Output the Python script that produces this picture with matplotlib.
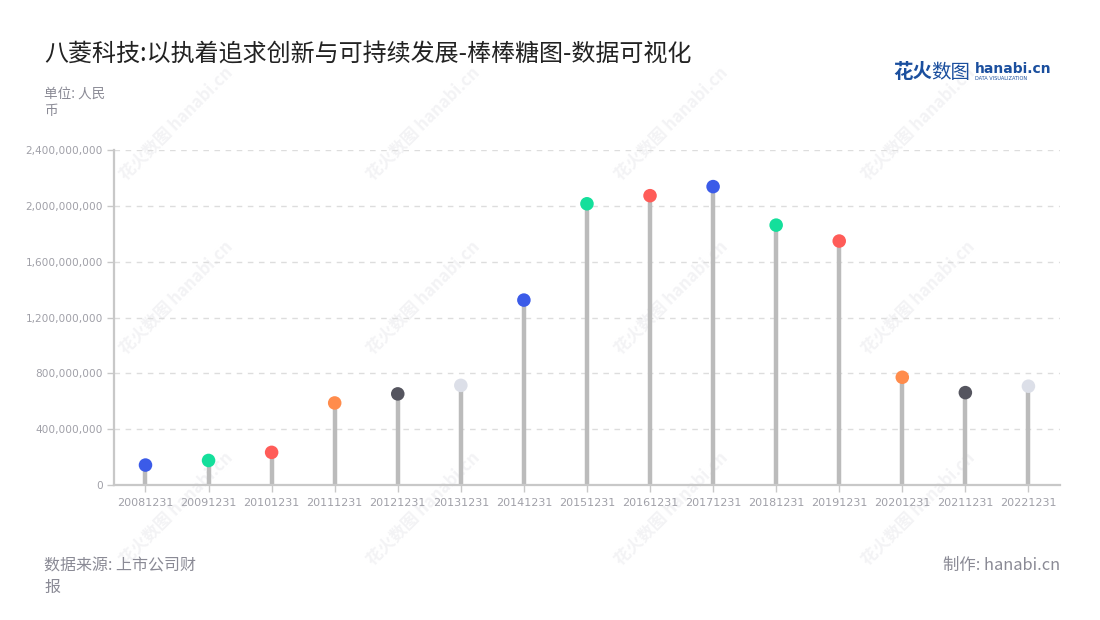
import matplotlib
matplotlib.use("Agg")
import matplotlib.pyplot as plt
from matplotlib.ticker import FuncFormatter

plt.rcParams['font.family'] = ['Noto Sans CJK SC', 'DejaVu Sans']

# ---- data ----
categories = ["20081231", "20091231", "20101231", "20111231", "20121231",
              "20131231", "20141231", "20151231", "20161231", "20171231",
              "20181231", "20191231", "20201231", "20211231", "20221231"]
values = [143e6, 176e6, 234e6, 588e6, 653e6,
          714e6, 1325e6, 2015e6, 2073e6, 2138e6,
          1862e6, 1748e6, 772e6, 662e6, 708e6]
point_colors = ["#3b5be8", "#14df9b", "#ff5c58", "#ff8c4c", "#55555f",
                "#dcdfe8", "#3b5be8", "#14df9b", "#ff5c58", "#3b5be8",
                "#14df9b", "#ff5c58", "#ff8c4c", "#55555f", "#dcdfe8"]
y_ticks = [0, 400e6, 800e6, 1200e6, 1600e6, 2000e6, 2400e6]

title = "八菱科技:以执着追求创新与可持续发展-棒棒糖图-数据可视化"
unit_text = "单位: 人民\n币"
source_text = "数据来源: 上市公司财\n报"
maker_text = "制作: hanabi.cn"

fig = plt.figure(figsize=(11, 6.2), dpi=100)
fig.patch.set_facecolor("white")

# faint watermarks (behind everything)
for wx in [0.16, 0.385, 0.61, 0.835]:
    for wy in [0.80, 0.52, 0.18]:
        t = fig.text(wx, wy, "花火数图 hanabi.cn", rotation=45, fontsize=12,
                     color="#f3f3f5", ha="center", va="center",
                     fontweight="bold")
        t.set_zorder(-5)

ax = fig.add_axes([0.1036, 0.2177, 0.86, 0.5403])
ax.set_zorder(2)
ax.set_facecolor("none")
x = list(range(len(categories)))

ax.vlines(x, 0, values, colors="#bbbbbb", linewidth=3.2, zorder=2)
ax.scatter(x, values, s=95, c=point_colors, zorder=3, edgecolors="none")

ax.set_xlim(-0.5, len(categories) - 0.5)
ax.set_ylim(0, 2400e6)
ax.set_yticks(y_ticks)
ax.yaxis.set_major_formatter(FuncFormatter(lambda v, p: f"{int(round(v)):,}"))
ax.set_xticks(x)
ax.set_xticklabels(categories, family="DejaVu Sans")
for lab in ax.get_yticklabels():
    lab.set_family("DejaVu Sans")

ax.grid(axis="y", linestyle=(0, (4, 4)), color="#dddddd", linewidth=1, zorder=1)
ax.set_axisbelow(True)
for s in ["top", "right"]:
    ax.spines[s].set_visible(False)
for s in ["left", "bottom"]:
    ax.spines[s].set_color("#c8c8c8")
    ax.spines[s].set_linewidth(1.6)
ax.tick_params(axis="x", colors="#c8c8c8", labelcolor="#a0a0a8", labelsize=8,
               length=5, width=1, pad=4)
ax.tick_params(axis="y", colors="#c8c8c8", labelcolor="#a0a0a8", labelsize=7.6,
               length=5, width=1, pad=3)

# texts
fig.text(44 / 1100, 1 - 55 / 620, title, fontsize=17.3, color="#222222",
         ha="left", va="center")
fig.text(44 / 1100, 1 - 87 / 620, unit_text, fontsize=9.8, color="#8a8a95",
         ha="left", va="top", linespacing=1.3)
fig.text(44 / 1100, 1 - 557 / 620, source_text, fontsize=11.5, color="#8a8a95",
         ha="left", va="top", linespacing=1.35)
fig.text(1060 / 1100, 1 - 557 / 620, maker_text, fontsize=11.8, color="#8a8a95",
         ha="right", va="top")

# logo
fig.text(893 / 1100, 1 - 72 / 620, "花火", fontsize=14, color="#1b4f9e",
         fontweight="bold", ha="left", va="center")
fig.text(931 / 1100, 1 - 72 / 620, "数图", fontsize=14, color="#1b4f9e",
         ha="left", va="center")
fig.text(975 / 1100, 1 - 69 / 620, "hanabi.cn", fontsize=10, color="#1b4f9e",
         fontweight="bold", ha="left", va="center", family="DejaVu Sans")
fig.text(975 / 1100, 1 - 79 / 620, "DATA VISUALIZATION", fontsize=3.6,
         color="#1b4f9e", ha="left", va="center", family="DejaVu Sans")

fig.savefig("out.png", dpi=100, facecolor="white")
